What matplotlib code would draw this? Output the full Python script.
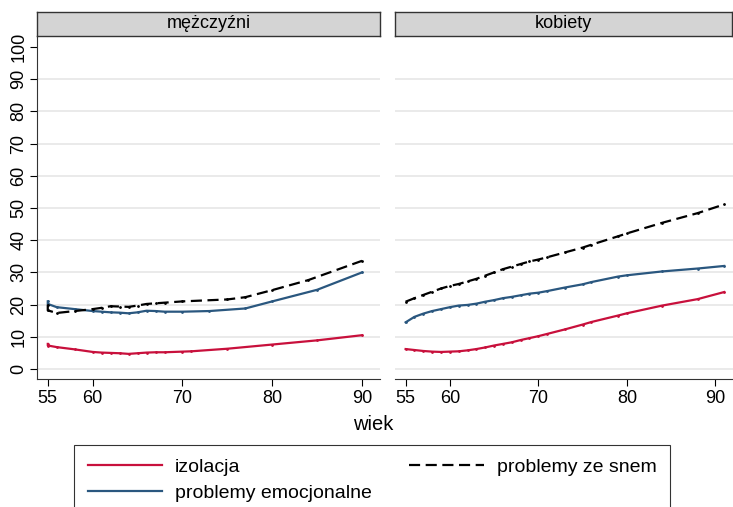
import matplotlib.pyplot as plt
from matplotlib.lines import Line2D

plt.rcParams['font.family'] = ['Liberation Sans', 'DejaVu Sans']

# wiek (age) and shares (%)
men_age_iz = [55, 55, 56, 58, 60, 61, 62, 63, 64, 65, 66, 67, 68, 70, 71, 75, 80, 85, 90]
men_iz = [7.8, 7.3, 6.8, 6.1, 5.3, 5.1, 5.0, 4.9, 4.7, 4.9, 5.1, 5.2, 5.2, 5.4, 5.5, 6.3, 7.6, 8.9, 10.5]

men_age_em = [55, 55, 56, 58, 60, 61, 62, 63, 64, 65, 66, 67, 68, 70, 73, 77, 80, 85, 90]
men_em = [21.0, 20.2, 19.2, 18.6, 18.0, 17.8, 17.6, 17.5, 17.3, 17.6, 18.1, 18.0, 17.8, 17.8, 18.0, 18.8, 21.0, 24.6, 30.0]

men_age_sn = [55, 55, 56, 58, 60, 61, 62, 63, 64, 65, 66, 67, 68, 70, 75, 77, 80, 84, 90]
men_sn = [20.0, 18.2, 17.4, 18.0, 18.6, 19.0, 19.5, 19.4, 19.3, 19.7, 20.2, 20.4, 20.6, 21.0, 21.6, 22.3, 24.5, 27.6, 33.6]

women_age = [55, 56, 57, 58, 59, 60, 61, 62, 63, 64, 65, 66, 67, 68, 69, 70, 71, 73, 75, 76, 79, 80, 84, 88, 91]
women_iz = [6.2, 5.9, 5.6, 5.4, 5.3, 5.4, 5.5, 5.8, 6.2, 6.7, 7.3, 7.8, 8.3, 9.0, 9.6, 10.2, 10.9, 12.3, 13.8, 14.6, 16.6, 17.3, 19.7, 21.7, 23.9]
women_em = [14.5, 16.2, 17.2, 18.0, 18.6, 19.2, 19.7, 19.9, 20.3, 20.9, 21.4, 22.0, 22.4, 22.9, 23.4, 23.7, 24.2, 25.3, 26.3, 27.0, 28.7, 29.1, 30.3, 31.2, 32.0]
women_sn = [20.9, 22.0, 23.0, 24.0, 25.0, 25.8, 26.4, 27.2, 28.0, 29.0, 30.0, 31.0, 31.8, 32.6, 33.4, 34.0, 34.7, 36.2, 37.7, 38.6, 41.2, 42.1, 45.4, 48.4, 51.1]

panels = ['mężczyźni', 'kobiety']
series_labels = ['izolacja', 'problemy emocjonalne', 'problemy ze snem']
x_ticks = [55, 60, 70, 80, 90]
y_ticks = list(range(0, 101, 10))

red = '#C8103C'
blue = '#2A577F'
W, H = 733, 507


def box(x0, y0, x1, y1):
    # pixel box (top-left origin) -> figure fraction rect
    return [x0 / W, 1 - y1 / H, (x1 - x0) / W, (y1 - y0) / H]


fig = plt.figure(figsize=(W / 100, H / 100), dpi=100)

panel_data = [
    [(men_age_iz, men_iz), (men_age_em, men_em), (men_age_sn, men_sn)],
    [(women_age, women_iz), (women_age, women_em), (women_age, women_sn)],
]
x_ranges = [(37, 380), (395, 733)]
styles = [dict(color=red, ls='-'), dict(color=blue, ls='-'), dict(color='black', ls=(0, (5, 2.5)))]

for p, (name, (xa, xb)) in enumerate(zip(panels, x_ranges)):
    ax = fig.add_axes(box(xa, 36, xb, 379))
    for yv in range(0, 100, 10):
        ax.axhline(yv, color='#E6E6E6', lw=1.2, zorder=0)
    for (xs, ys), st in zip(panel_data[p], styles):
        ax.plot(xs, ys, lw=1.6, marker='.', ms=2, **st)
    ax.set_xlim(53.8, 92.0)
    ax.set_ylim(-3.1, 103.4)
    ax.set_xticks(x_ticks)
    ax.tick_params(axis='x', labelsize=13, length=5, width=0.8, pad=3)
    for s in ['top', 'right']:
        ax.spines[s].set_visible(False)
    ax.spines['bottom'].set_color('#333333')
    if p == 0:
        ax.set_yticks(y_ticks)
        ax.set_yticklabels([str(v) for v in y_ticks], rotation=90, va='center')
        ax.tick_params(axis='y', labelsize=13, length=5, width=0.8, pad=2)
        ax.spines['left'].set_color('#333333')
    else:
        ax.set_yticks([])
        ax.spines['left'].set_visible(False)

    # strip header
    sax = fig.add_axes(box(xa, 12, min(xb, 732), 36))
    sax.set_facecolor('#D4D4D4')
    sax.set_xticks([])
    sax.set_yticks([])
    for s in sax.spines.values():
        s.set_color('#333333')
        s.set_linewidth(1.0)
    sax.text(0.5, 0.5, name, ha='center', va='center', fontsize=13, transform=sax.transAxes)

fig.text(373 / W, 1 - 425 / H, 'wiek', ha='center', va='center', fontsize=14.5)

handles = [Line2D([], [], lw=1.6, **st) for st in styles]
leg = fig.legend(handles, series_labels, ncol=2, loc='upper left',
                 bbox_to_anchor=(74 / W, 0, 596 / W, 1 - 445 / H), mode='expand',
                 fontsize=14, handlelength=3.85, handletextpad=0.65, frameon=True,
                 fancybox=False, edgecolor='black', borderpad=0.7, labelspacing=0.4,
                 borderaxespad=0)
leg.get_frame().set_linewidth(0.8)

fig.savefig('out.png', dpi=100)
